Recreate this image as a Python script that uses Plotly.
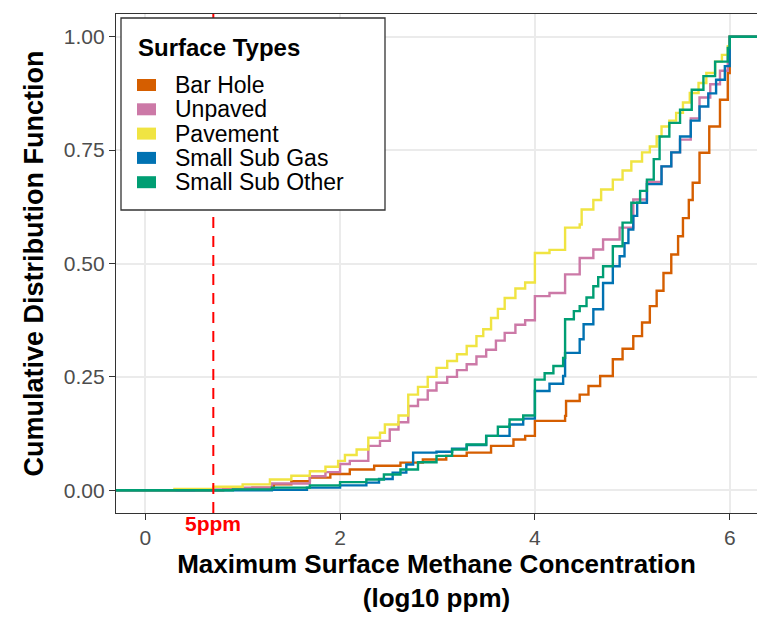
import math
import plotly.graph_objects as go

# ---- data (log10 ppm vs cumulative fraction) ----
series_names = ["Bar Hole", "Unpaved", "Pavement", "Small Sub Gas", "Small Sub Other"]
series_colors = ["#D55E00", "#CC79A7", "#F0E442", "#0072B2", "#009E73"]

bar_hole_x = [0.80, 1.10, 1.32, 1.50, 1.69, 1.90, 2.10, 2.35, 2.62, 2.85, 3.09, 3.30, 3.55, 3.78, 3.90,
              4.00, 4.31, 4.32, 4.46, 4.55, 4.67, 4.80, 4.90, 5.01, 5.10, 5.18, 5.25, 5.32, 5.40, 5.47,
              5.52, 5.58, 5.62, 5.69, 5.79, 5.90, 5.98, 6.00]
bar_hole_y = [0.002, 0.006, 0.013, 0.020, 0.028, 0.036, 0.046, 0.054, 0.061, 0.068, 0.076, 0.083, 0.098, 0.112, 0.120,
              0.153, 0.164, 0.197, 0.211, 0.230, 0.252, 0.289, 0.312, 0.340, 0.370, 0.406, 0.440, 0.479, 0.520, 0.560,
              0.600, 0.640, 0.678, 0.744, 0.802, 0.861, 0.920, 1.000]

unpaved_x = [0.50, 0.90, 1.30, 1.69, 1.85, 2.00, 2.10, 2.29, 2.41, 2.51, 2.60, 2.70, 2.80, 2.90, 2.99,
             3.10, 3.20, 3.30, 3.40, 3.50, 3.60, 3.69, 3.80, 3.90, 4.00, 4.15, 4.31, 4.46, 4.60, 4.70,
             4.87, 5.01, 5.15, 5.30, 5.40, 5.49, 5.60, 5.69, 5.80, 5.90, 5.98, 6.00]
unpaved_y = [0.002, 0.006, 0.015, 0.031, 0.040, 0.058, 0.065, 0.098, 0.109, 0.134, 0.150, 0.186, 0.200, 0.220, 0.237,
             0.250, 0.265, 0.278, 0.295, 0.310, 0.330, 0.347, 0.365, 0.375, 0.428, 0.435, 0.476, 0.512, 0.531, 0.553,
             0.579, 0.641, 0.680, 0.714, 0.745, 0.773, 0.820, 0.866, 0.895, 0.925, 0.955, 1.000]

pavement_x = [0.30, 0.70, 1.00, 1.28, 1.50, 1.69, 1.85, 1.98, 2.05, 2.17, 2.29, 2.41, 2.46, 2.60, 2.70,
              2.80, 2.90, 2.99, 3.10, 3.20, 3.30, 3.40, 3.47, 3.55, 3.62, 3.69, 3.80, 3.90, 4.00, 4.15,
              4.31, 4.46, 4.48, 4.60, 4.68, 4.80, 4.90, 4.99, 5.10, 5.18, 5.25, 5.30, 5.38, 5.45, 5.52,
              5.59, 5.68, 5.76, 5.85, 5.92, 5.98, 6.00]
pavement_y = [0.003, 0.008, 0.013, 0.024, 0.032, 0.042, 0.052, 0.065, 0.078, 0.090, 0.116, 0.127, 0.145, 0.165, 0.211,
              0.228, 0.250, 0.270, 0.285, 0.300, 0.318, 0.340, 0.355, 0.380, 0.400, 0.424, 0.445, 0.458, 0.523, 0.530,
              0.579, 0.586, 0.619, 0.640, 0.663, 0.685, 0.705, 0.725, 0.745, 0.758, 0.780, 0.802, 0.815, 0.832, 0.855,
              0.876, 0.898, 0.920, 0.945, 0.960, 0.979, 1.000]

sub_gas_x = [1.30, 1.66, 2.00, 2.27, 2.40, 2.54, 2.68, 2.75, 2.99, 3.15, 3.30, 3.50, 3.74, 3.88, 4.00,
             4.15, 4.29, 4.31, 4.46, 4.50, 4.60, 4.70, 4.80, 4.87, 4.92, 4.96, 5.01, 5.05, 5.15, 5.30,
             5.40, 5.49, 5.60, 5.69, 5.78, 5.86, 5.95, 6.00]
sub_gas_y = [0.001, 0.006, 0.011, 0.017, 0.025, 0.039, 0.057, 0.083, 0.085, 0.092, 0.100, 0.120, 0.145, 0.158, 0.219,
             0.235, 0.252, 0.303, 0.333, 0.366, 0.399, 0.457, 0.494, 0.516, 0.545, 0.575, 0.605, 0.634, 0.675, 0.714,
             0.745, 0.780, 0.815, 0.846, 0.875, 0.905, 0.935, 1.000]

sub_other_x = [0.90, 1.30, 1.69, 2.00, 2.27, 2.45, 2.62, 2.80, 2.99, 3.15, 3.30, 3.50, 3.62, 3.74, 3.88,
               4.00, 4.10, 4.19, 4.29, 4.31, 4.40, 4.46, 4.53, 4.60, 4.65, 4.70, 4.80, 4.90, 4.99, 5.08,
               5.15, 5.22, 5.28, 5.38, 5.49, 5.61, 5.73, 5.85, 5.98, 6.00]
sub_other_y = [0.002, 0.006, 0.011, 0.018, 0.024, 0.035, 0.046, 0.062, 0.076, 0.090, 0.101, 0.120, 0.140, 0.156, 0.165,
               0.244, 0.258, 0.274, 0.292, 0.377, 0.395, 0.406, 0.425, 0.450, 0.470, 0.494, 0.538, 0.590, 0.634, 0.660,
               0.685, 0.730, 0.780, 0.810, 0.839, 0.883, 0.913, 0.945, 0.975, 1.000]

series_x = [bar_hole_x, unpaved_x, pavement_x, sub_gas_x, sub_other_x]
series_y = [bar_hole_y, unpaved_y, pavement_y, sub_gas_y, sub_other_y]

threshold_ppm = 5
threshold_label = "5ppm"
legend_title = "Surface Types"
x_ticks = [0, 2, 4, 6]
y_ticks = [0, 0.25, 0.5, 0.75, 1.0]

X_RANGE = [-0.3, 6.28]
Y_RANGE = [-0.05, 1.05]

FONT = "Liberation Sans, Arial, Helvetica, sans-serif"
W, H = 757, 617
M_L, M_R, M_T, M_B = 116, 0, 14, 104
PLOT_W = W - M_L - M_R
PLOT_H = H - M_T - M_B


def px_x(p):
    return (p - M_L) / PLOT_W


def px_y(p):
    return (H - M_B - p) / PLOT_H


fig = go.Figure()

for name, col, xs, ys in zip(series_names, series_colors, series_x, series_y):
    # ECDF padded to -Inf / +Inf like stat_ecdf
    px = [X_RANGE[0]] + xs + [X_RANGE[1]]
    py = [0.0] + ys + [1.0]
    fig.add_trace(go.Scatter(x=px, y=py, mode="lines", name=name,
                             line=dict(color=col, width=2.4, shape="hv"),
                             showlegend=False, hoverinfo="x+y+name"))

# threshold line
thr = math.log10(threshold_ppm)
fig.add_shape(type="line", x0=thr, x1=thr, xref="x", y0=0, y1=1, yref="paper",
              line=dict(color="#FF0000", width=2, dash="11px,8px"), layer="above")
fig.add_annotation(x=thr, xref="x", y=px_y(523), yref="paper", text="<b>%s</b>" % threshold_label,
                   showarrow=False, xanchor="center", yanchor="middle",
                   font=dict(family=FONT, size=21, color="#FF0000"))

# legend (ggplot-style box inside the panel)
LEG_L, LEG_R, LEG_T, LEG_B = 121, 385, 18, 210
ITEM0, ITEM_STEP = 85, 24.3
fig.add_shape(type="rect", xref="paper", yref="paper",
              x0=px_x(LEG_L), x1=px_x(LEG_R), y0=px_y(LEG_B), y1=px_y(LEG_T),
              fillcolor="white", line=dict(color="#333333", width=1.3), layer="above")
fig.add_annotation(x=px_x(136), y=px_y(47), xref="paper", yref="paper",
                   text="<b>%s</b>" % legend_title, showarrow=False,
                   xanchor="left", yanchor="middle", height=30,
                   font=dict(family=FONT, size=24, color="black"))
for i, (name, col) in enumerate(zip(series_names, series_colors)):
    yc = ITEM0 + i * ITEM_STEP
    fig.add_shape(type="rect", xref="paper", yref="paper",
                  x0=px_x(137), x1=px_x(156), y0=px_y(yc + 6), y1=px_y(yc - 6),
                  fillcolor=col, line=dict(width=0), layer="above")
    fig.add_annotation(x=px_x(174), y=px_y(yc), xref="paper", yref="paper",
                       text=name, showarrow=False, xanchor="left", yanchor="middle",
                       height=24, valign="middle", borderpad=0,
                       font=dict(family=FONT, size=23, color="black"))

fig.update_layout(
    width=W, height=H,
    margin=dict(l=M_L, r=M_R, t=M_T, b=M_B),
    paper_bgcolor="white", plot_bgcolor="white",
    font=dict(family=FONT, color="black"),
    showlegend=False,
    xaxis=dict(
        range=X_RANGE, tickvals=x_ticks, ticktext=[str(v) for v in x_ticks],
        showgrid=True, gridcolor="#EBEBEB", gridwidth=1.5, zeroline=False,
        showline=True, linecolor="#333333", linewidth=1.2, mirror=True,
        ticks="outside", ticklen=6, tickcolor="#333333", tickwidth=1.2,
        tickfont=dict(family=FONT, size=21, color="#4D4D4D"),
        title=dict(text="<b>Maximum Surface Methane Concentration</b><br><b>(log10 ppm)</b>",
                   font=dict(family=FONT, size=26, color="black"), standoff=6),
    ),
    yaxis=dict(
        range=Y_RANGE, tickvals=y_ticks, tickformat=".2f",
        showgrid=True, gridcolor="#EBEBEB", gridwidth=1.5, zeroline=False,
        showline=True, linecolor="#333333", linewidth=1.2, mirror=False,
        ticks="outside", ticklen=6, tickcolor="#333333", tickwidth=1.2,
        tickfont=dict(family=FONT, size=21, color="#4D4D4D"),
        title=dict(text="<b>Cumulative Distribution Function</b>",
                   font=dict(family=FONT, size=27, color="black"), standoff=12),
    ),
)

fig.write_html("out.html")
